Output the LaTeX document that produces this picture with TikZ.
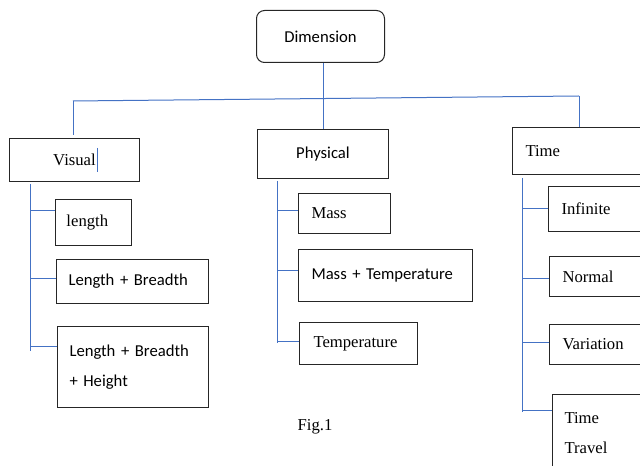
\documentclass[tikz,border=0pt]{standalone}
\usepackage{fontspec}
\setmainfont{Liberation Serif}
\newfontfamily\calfont{Carlito}
\usetikzlibrary{calc}
\definecolor{linkblue}{RGB}{68,114,196}
\hyphenpenalty=10000

\begin{document}
\begin{tikzpicture}[x=0.75pt, y=-0.75pt,
  box/.style={draw=black!85, line width=0.75pt, anchor=north west, inner ysep=0pt},
  lbox/.style={box, align=left, inner xsep=9.75pt},
  link/.style={draw=linkblue, line width=0.75pt},
  serif/.style={font=\rmfamily\fontsize{12.5}{15}\selectfont},
  sans/.style={font=\calfont\fontsize{12.5}{15}\selectfont}]
	%%%%% START %%%%%
	\useasboundingbox (0,0) rectangle (640,466);
	\clip (0,0) rectangle (640,466);
	
	\node[box, sans, rounded corners=6pt, minimum width=96pt, minimum height=39pt] (dim) at (256,10) {Dimension};
	
	\node[box, serif, minimum width=97.5pt, minimum height=32.25pt] (vis) at (9,138) {Visual};
	\node[box, sans, minimum width=98.25pt, minimum height=36.75pt] (phys) at (257,129) {Physical};
	\node[lbox, serif, text width=100.5pt, minimum height=35.25pt] (time) at (512,127) {Time};
	
	\node[lbox, serif, inner xsep=8.25pt, text width=40.5pt, minimum height=34.5pt] (len) at (55,199) {length};
	\node[lbox, sans, inner xsep=9pt, text width=96pt, minimum height=33pt] (lb) at (56,259) {Length + Breadth};
	\node[lbox, sans, inner xsep=9pt, text width=95.25pt, minimum height=60.75pt] (lbh) at (57,326) {Length + Breadth\\[8pt]+ Height};
	
	\node[lbox, serif, text width=49.5pt, minimum height=30pt] (mass) at (298,193) {Mass};
	\node[lbox, sans, text width=111pt, minimum height=39pt] (mt) at (298,249) {Mass + Temperature};
	\node[lbox, serif, inner xsep=10.5pt, text width=67.5pt, minimum height=31.5pt] (temp) at (299,322) {Temperature};
	
	\node[lbox, serif, text width=55.5pt, minimum height=33.75pt] (inf) at (548,186) {Infinite};
	\node[lbox, serif, text width=55.5pt, minimum height=30pt] (nor) at (549,256) {Normal};
	\node[lbox, serif, text width=55.5pt, minimum height=30pt] (var) at (549,324) {Variation};
	\node[lbox, serif, inner xsep=9pt, text width=57pt, minimum height=57.75pt] (tt) at (552,394) {Time\\[7pt]Travel};
	
	\node[serif] (fig) at (315,427) {Fig.1};
	
	% top level
	\coordinate (busl) at (73,101);
	\coordinate (busr) at (579,96);
	\draw[link] (phys.north |- dim.south) -- (phys.north);
	\draw[link] (busl) -- (busr);
	\draw[link] (busl) -- ($(busl |- vis.north)+(0,-3)$);
	\draw[link] (busr) -- (busr |- time.north);
	\draw[link, line width=0.5pt] ($(vis.north west)+(88,10)$) -- ++(0,24);
	
	% visual
	\draw[link] ($(vis.south west)+(21,2)$) -- ++(0,167);
	\draw[link] ($(len.north west)+(0,12)$) -- ++(-25,0);
	\draw[link] ($(lb.north west)+(0,20)$) -- ++(-26,0);
	\draw[link] ($(lbh.north west)+(0,21)$) -- ++(-27,0);
	
	% physical
	\draw[link] ($(phys.south west)+(20,2)$) -- ++(0,162);
	\draw[link] ($(mass.north west)+(0,18)$) -- ++(-21,0);
	\draw[link] ($(mt.north west)+(0,22)$) -- ++(-21,0);
	\draw[link] ($(temp.north west)+(0,20)$) -- ++(-22,0);
	
	% time
	\draw[link] ($(time.south west)+(10,3)$) -- ++(0,234);
	\draw[link] ($(inf.north west)+(0,23)$) -- ++(-26,0);
	\draw[link] ($(nor.north west)+(0,23)$) -- ++(-27,0);
	\draw[link] ($(var.north west)+(0,19)$) -- ++(-27,0);
	\draw[link] ($(tt.north west)+(0,17)$) -- ++(-30,0);
	%%%%% END %%%%%
\end{tikzpicture}
\end{document}
